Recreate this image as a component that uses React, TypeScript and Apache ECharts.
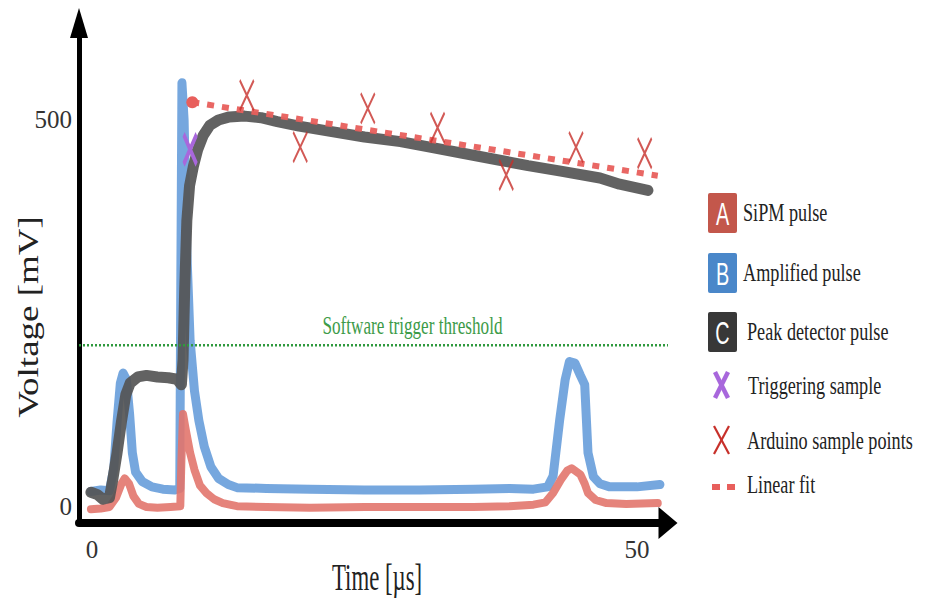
import React, { useEffect, useRef } from "react";
import * as echarts from "echarts";

// ---- data (time in µs, voltage in mV) ----
const sipmPulse: [number, number][] = [
  [-0.1, -3], [0.8, -2], [1.6, 0], [2.2, 12], [2.7, 30], [3.0, 37], [3.4, 30], [3.8, 14],
  [4.3, 4], [5, 0], [6, -1], [7.2, 0], [8.1, 1], [8.2, 60], [8.35, 120], [8.6, 100],
  [9.0, 70], [9.4, 48], [9.9, 28], [10.5, 18], [11.2, 10], [12.0, 5], [13.3, 1], [16, 0],
  [20, -1], [25, 0], [30, 0], [35, 0], [38.3, 1], [40.5, 3], [41.6, 6], [42.3, 18],
  [43.0, 35], [43.6, 47], [44.0, 50], [44.8, 42], [45.2, 30], [45.5, 18], [46.2, 9],
  [47.2, 5], [49, 4], [51.9, 5],
];

const amplifiedPulse: [number, number][] = [
  [-0.1, 20], [0.8, 22], [1.6, 21], [2.0, 50], [2.3, 110], [2.6, 160], [2.85, 173],
  [3.15, 165], [3.45, 120], [3.7, 70], [4.0, 45], [4.6, 33], [5.5, 26], [6.5, 23],
  [7.6, 22], [8.05, 24], [8.15, 300], [8.25, 548], [8.45, 500], [8.7, 330], [9.0, 215],
  [9.4, 150], [9.8, 112], [10.3, 78], [10.9, 52], [11.6, 37], [12.5, 29], [13.3, 25],
  [16, 24], [20, 23], [25, 22], [30, 22], [35, 23], [38.3, 24], [40.5, 23], [41.8, 26],
  [42.3, 40], [42.9, 112], [43.4, 164], [43.8, 188], [44.3, 186], [44.8, 170], [45.2, 158],
  [45.5, 70], [46.0, 39], [46.6, 30], [47.5, 26], [50, 26], [52.1, 29],
];

const peakDetectorPulse: [number, number][] = [
  [-0.1, 19], [0.5, 16], [1.0, 10], [1.6, 12], [1.9, 35], [2.3, 70], [2.7, 110], [3.1, 145],
  [3.5, 160], [4.2, 168], [5, 170], [6, 168], [7, 167], [7.8, 165], [8.2, 158], [8.35, 190],
  [8.5, 280], [8.7, 370], [8.95, 415], [9.3, 440], [9.7, 462], [10.2, 480], [10.8, 493],
  [11.6, 500], [12.6, 504], [14, 505], [15.5, 503], [17, 498], [19, 492], [22, 485],
  [25, 478], [28.3, 472], [31, 465], [34, 457], [37.4, 448], [40, 441], [43, 434],
  [46.6, 425], [48.4, 417], [51, 409],
];

const triggeringSample: [number, number][] = [[9.0, 462]];

const arduinoSamples: [number, number][] = [
  [14.2, 532], [19.1, 465], [25.3, 515], [31.7, 490], [38.0, 429], [44.4, 465], [50.7, 457],
];

const linearFit: [number, number][] = [[9.2, 523], [51.9, 428]];

const thresholdMv = 209;
const thresholdLabel = "Software trigger threshold";
const thresholdLabelTime = 29.4;

const xTickValues = [0, 50];
const yTickValues = [0, 500];

const legendLabels = [
  "SiPM pulse",
  "Amplified pulse",
  "Peak detector pulse",
  "Triggering sample",
  "Arduino sample points",
  "Linear fit",
];
const legendLetters = ["A", "B", "C"];

// ---- styling / layout ----
const X_MIN = -1.193;
const X_MAX = 52.84;
const Y_MIN = -20.7;
const Y_MAX = 625.3;

const RED = "#e2766d";
const BLUE = "#6fa2dc";
const GRAY = "#555555";
const FIT = "#e85f5c";
const XRED = "#c7302a";
const PURPLE = "#a867dc";
const GREEN = "#2f9a3e";
const SERIF = '"Liberation Serif", "DejaVu Serif", serif';

const legendRowY = [212, 272, 331, 385, 440, 484];
const legendTextX = [743, 743, 747, 748, 747, 747];
const legendBoxColors = ["#c3574b", "#4a87c9", "#383838"];

const X_PATH = "path://M0,0L10,20M10,0L0,20";

function buildGraphic() {
  const els: any[] = [];
  // axis titles
  els.push({
    type: "text",
    x: 332,
    y: 577,
    scaleX: 0.6,
    style: {
      text: "Time [µs]",
      font: `38px ${SERIF}`,
      fill: "#222",
      align: "left",
      verticalAlign: "middle",
      textAlign: "left",
      textVerticalAlign: "middle",
    },
  });
  els.push({
    type: "text",
    x: 28,
    y: 317,
    rotation: Math.PI / 2,
    scaleY: 0.78,
    style: {
      text: "Voltage [mV]",
      font: `37px ${SERIF}`,
      fill: "#222",
      align: "center",
      verticalAlign: "middle",
      textAlign: "center",
      textVerticalAlign: "middle",
    },
  });
  // legend boxes with letters
  legendLetters.forEach((letter, i) => {
    const cy = legendRowY[i] + 1;
    els.push({
      type: "rect",
      shape: { x: 708, y: cy - 20, width: 29, height: 40, r: 2 },
      style: { fill: legendBoxColors[i] },
    });
    els.push({
      type: "text",
      x: 722.5,
      y: cy + 1,
      scaleX: 0.62,
      style: {
        text: letter,
        font: `32px "Liberation Sans", sans-serif`,
        fill: "#fff",
        align: "center",
        verticalAlign: "middle",
        textAlign: "center",
        textVerticalAlign: "middle",
      },
    });
  });
  // purple X
  const py = legendRowY[3];
  els.push({ type: "line", shape: { x1: 715, y1: py - 13, x2: 728, y2: py + 13 }, style: { stroke: PURPLE, lineWidth: 4.5 } });
  els.push({ type: "line", shape: { x1: 728, y1: py - 13, x2: 715, y2: py + 13 }, style: { stroke: PURPLE, lineWidth: 4.5 } });
  // red X
  const ry = legendRowY[4];
  els.push({ type: "line", shape: { x1: 714, y1: ry - 14, x2: 729, y2: ry + 14 }, style: { stroke: XRED, lineWidth: 2.2 } });
  els.push({ type: "line", shape: { x1: 729, y1: ry - 14, x2: 714, y2: ry + 14 }, style: { stroke: XRED, lineWidth: 2.2 } });
  // dashes
  const dy = legendRowY[5] + 3;
  els.push({ type: "rect", shape: { x: 712, y: dy - 3, width: 8, height: 6 }, style: { fill: FIT } });
  els.push({ type: "rect", shape: { x: 727, y: dy - 3, width: 8, height: 6 }, style: { fill: FIT } });
  // legend labels
  legendLabels.forEach((label, i) => {
    els.push({
      type: "text",
      x: legendTextX[i],
      y: legendRowY[i],
      scaleX: 0.7,
      style: {
        text: label,
        font: `26px ${SERIF}`,
        fill: "#222",
        align: "left",
        verticalAlign: "middle",
        textAlign: "left",
        textVerticalAlign: "middle",
      },
    });
  });
  return els;
}

const traceLine = (name: string, data: [number, number][], color: string, width: number, opacity: number) => ({
  name,
  type: "line",
  data,
  symbol: "none",
  smooth: false,
  z: 2,
  lineStyle: { color, width, opacity, cap: "round", join: "round" },
  itemStyle: { color },
});

export default function App() {
  const ref = useRef<HTMLDivElement>(null);
  useEffect(() => {
    const chart = echarts.init(ref.current!, null, { renderer: "svg" });
    const option: any = {
      animation: false,
      backgroundColor: "#ffffff",
      grid: { left: 79, top: 23, width: 589, height: 500, containLabel: false },
      xAxis: {
        type: "value",
        min: X_MIN,
        max: X_MAX,
        splitLine: { show: false },
        axisTick: { show: false },
        axisLine: {
          show: true,
          onZero: false,
          symbol: ["none", "triangle"],
          symbolSize: [32, 19],
          lineStyle: { color: "#000", width: 8 },
        },
        axisLabel: {
          customValues: xTickValues,
          margin: 14,
          fontFamily: SERIF,
          fontSize: 25,
          color: "#333",
          formatter: (v: number) => String(v),
        },
      },
      yAxis: {
        type: "value",
        min: Y_MIN,
        max: Y_MAX,
        splitLine: { show: false },
        axisTick: { show: false },
        axisLine: {
          show: true,
          onZero: false,
          symbol: ["none", "triangle"],
          symbolSize: [18, 30],
          lineStyle: { color: "#000", width: 5 },
        },
        axisLabel: {
          customValues: yTickValues,
          margin: 7,
          fontFamily: SERIF,
          fontSize: 25,
          color: "#333",
          formatter: (v: number) => String(v),
        },
      },
      graphic: buildGraphic(),
      series: [
        traceLine("Amplified pulse", amplifiedPulse, BLUE, 9, 0.95),
        traceLine("SiPM pulse", sipmPulse, RED, 8, 0.9),
        traceLine("Peak detector pulse", peakDetectorPulse, GRAY, 11, 0.92),
        {
          name: "Software trigger threshold",
          type: "line",
          z: 3,
          data: [[X_MIN, thresholdMv], [X_MAX, thresholdMv]],
          symbol: "none",
          lineStyle: { color: GREEN, width: 2.5, type: [2, 2] },
        },
        {
          name: "Linear fit",
          type: "line",
          z: 4,
          symbol: "none",
          showSymbol: true,
          data: [
            { value: linearFit[0], symbol: "circle", symbolSize: 12 },
            { value: linearFit[1], symbol: "none" },
          ],
          lineStyle: { color: FIT, width: 6, type: [7, 8], opacity: 0.95 },
          itemStyle: { color: FIT },
        },
        {
          name: "Triggering sample",
          type: "scatter",
          z: 6,
          data: triggeringSample,
          symbol: X_PATH,
          symbolSize: [13, 30],
          itemStyle: { color: "rgba(0,0,0,0)", borderColor: PURPLE, borderWidth: 4.5, opacity: 1 },
        },
        {
          name: "Arduino sample points",
          type: "scatter",
          z: 6,
          data: arduinoSamples,
          symbol: X_PATH,
          symbolSize: [14, 30],
          itemStyle: { color: "rgba(0,0,0,0)", borderColor: XRED, borderWidth: 2.3 },
        },
        {
          name: "threshold label",
          type: "custom",
          z: 6,
          silent: true,
          data: [[thresholdLabelTime, thresholdMv]],
          renderItem: (_params: any, api: any) => {
            const p = api.coord([api.value(0), api.value(1)]);
            return {
              type: "text",
              x: p[0],
              y: p[1] - 20,
              scaleX: 0.66,
              style: {
                text: thresholdLabel,
                font: `26px ${SERIF}`,
                fill: "#3d9b49",
                align: "center",
                verticalAlign: "middle",
                textAlign: "center",
                textVerticalAlign: "middle",
              },
            };
          },
        },
      ],
    };
    chart.setOption(option);
    return () => chart.dispose();
  }, []);
  return (
    <div
      ref={ref}
      style={{ position: "fixed", left: 0, top: 0, width: 930, height: 600, background: "#fff" }}
    />
  );
}
